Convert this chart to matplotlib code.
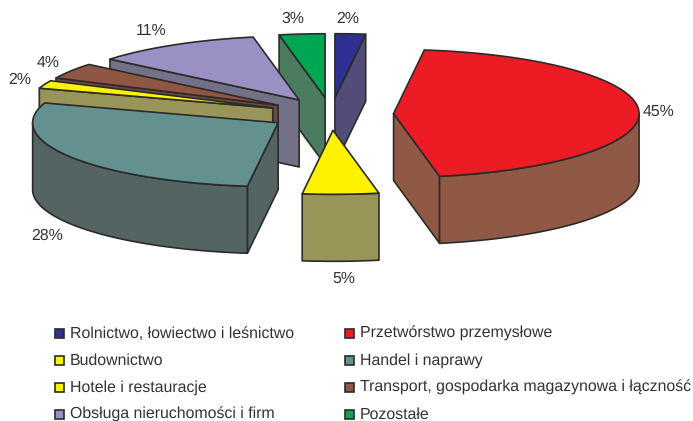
import numpy as np
from matplotlib import pyplot as plt
from matplotlib.patches import Polygon, Rectangle

# udzial sekcji w %, zgodnie z ruchem wskazowek od godziny 12
labels = ['Rolnictwo, łowiectwo i leśnictwo', 'Przetwórstwo przemysłowe', 'Budownictwo', 'Handel i naprawy',
          'Hotele i restauracje', 'Transport, gospodarka magazynowa i łączność', 'Obsługa nieruchomości i firm', 'Pozostałe']
values = [2, 45, 5, 28, 2, 4, 11, 3]

top_colors = ['#2e3192', '#ed1c24', '#fff200', '#639190', '#fff200', '#8f5643', '#9b90c4', '#00a651']
side_colors = ['#524c78', '#8f5946', '#999558', '#536463', '#999558', '#6b4a3e', '#737187', '#4b7c60']
edge = '#2b2b2b'
text_color = '#333333'

pct_x = [348, 659, 344, 47, 20, 48, 151, 293]
pct_y = [23, 116, 283, 240, 84, 67, 35, 23]

cx, cy = 331, 114
rx, ry = 245.5, 64
depth = 67
explode = 0.255

plt.rcParams['font.family'] = ['Liberation Sans', 'DejaVu Sans']
plt.rcParams['text.hinting'] = 'none'
fig = plt.figure(figsize=(6.93, 4.21), dpi=100)
ax = fig.add_axes([0, 0, 1, 1])
ax.set_xlim(0, 693)
ax.set_ylim(421, 0)
ax.axis('off')


def pt(ox, oy, deg):
    a = np.radians(deg)
    return ox + rx * np.sin(a), oy - ry * np.cos(a)


def arc(ox, oy, d1, d2):
    t = np.linspace(d1, d2, 60)
    x, y = pt(ox, oy, t)
    return np.column_stack([x, y])


def face(points, color, z):
    ax.add_patch(Polygon(points, closed=True, facecolor=color, edgecolor=edge, linewidth=1.2, joinstyle='round', zorder=z))


def draw_wedge(d1, d2, top, side, z):
    mid = np.radians((d1 + d2) / 2)
    ox = cx + explode * rx * np.sin(mid)
    oy = cy - explode * ry * np.cos(mid)
    down = np.array([0, depth])
    apex = np.array([ox, oy])
    # sciany przekroju, tylko te zwrocone do widza
    if np.sin(np.radians(d1)) < 0:
        p = np.array(pt(ox, oy, d1))
        face([apex, p, p + down, apex + down], side, z)
    if np.sin(np.radians(d2)) > 0:
        p = np.array(pt(ox, oy, d2))
        face([apex, p, p + down, apex + down], side, z)
    # sciana zewnetrzna, przednia polowa
    lo, hi = max(d1, 90), min(d2, 270)
    if hi > lo:
        a = arc(ox, oy, lo, hi)
        face(np.vstack([a, (a + down)[::-1]]), side, z)
    face(np.vstack([apex, arc(ox, oy, d1, d2)]), top, z)


edges = np.cumsum([0] + values) / sum(values) * 360
mids = (edges[:-1] + edges[1:]) / 2
order = np.argsort(-np.cos(np.radians(mids)))
for z, i in enumerate(order):
    draw_wedge(edges[i], edges[i + 1], top_colors[i], side_colors[i], z + 2)

for v, x, y in zip(values, pct_x, pct_y):
    ax.text(x, y, '%d%%' % v, ha='center', va='baseline', fontsize=11.4, color=text_color, zorder=20)

# legenda, dwie kolumny czytane wierszami
row_y = [333, 360, 387, 414]
col_x = [54.5, 345]
for i, lab in enumerate(labels):
    x = col_x[i % 2]
    y = row_y[i // 2]
    ax.add_patch(Rectangle((x, y - 4.5), 9, 9, facecolor=top_colors[i], edgecolor=edge, linewidth=1.2, zorder=20))
    ax.text(x + 15, y + 5, lab, ha='left', va='baseline', fontsize=11.4, color=text_color, zorder=20)

plt.savefig('out.png', dpi=100)
